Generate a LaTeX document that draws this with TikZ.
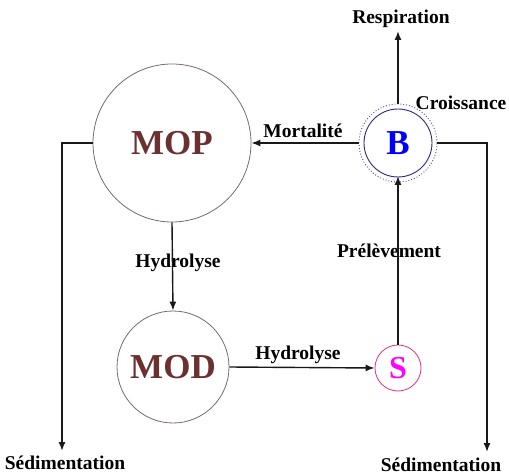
\documentclass[tikz,border=0pt]{standalone}
\usepackage{fontspec}
\setmainfont{Liberation Serif}
\usetikzlibrary{arrows.meta}
\definecolor{poolc}{HTML}{6B3030}
\definecolor{ringc}{HTML}{7A6A6A}
\definecolor{bring}{HTML}{2A2A8A}
\definecolor{bdot}{HTML}{5A3AA0}
\definecolor{sring}{HTML}{E8308A}
\definecolor{stext}{HTML}{FF00FF}
\definecolor{btext}{HTML}{0000FF}
\begin{document}
\begin{tikzpicture}[x=1pt,y=-1pt,
  pool/.style={circle,draw=ringc,line width=0.8pt,inner sep=0pt,
    font=\fontsize{35}{40}\selectfont\bfseries,text=poolc},
  lbl/.style={font=\fontsize{19.5}{22}\selectfont\bfseries,inner sep=1pt},
  flow/.style={line width=1.4pt,draw=black!90,-{Latex[length=9pt,width=7pt]}},
  link/.style={line width=1.4pt,draw=black!90}]
\useasboundingbox (0,0) rectangle (509,476);

% compartments
\node[pool,minimum size=158pt] (mop) at (172,143) {MOP};
\node[pool,minimum size=112pt] (mod) at (173,367) {MOD};
\node[circle,draw=sring,line width=0.8pt,minimum size=46pt,inner sep=0pt,
  text=stext,font=\fontsize{32}{36}\selectfont\bfseries] (s) at (398,368) {S};
\node[circle,draw=bdot,dotted,line width=0.9pt,minimum size=78pt,inner sep=0pt] (bout) at (398,143) {};
\node[circle,draw=bring,line width=0.9pt,minimum size=68pt,inner sep=0pt,
  text=btext,font=\fontsize{35}{40}\selectfont\bfseries] (b) at (398,143) {B};

% labels
\node[lbl] (resp) at (401,19) {Respiration};
\node[lbl] (crois) at (461,103) {Croissance};
\node[lbl] (mort) at (303,131) {Mortalité};
\node[lbl] (hyd1) at (178,263) {Hydrolyse};
\node[lbl] (hyd2) at (298,355) {Hydrolyse};
\node[lbl] (prel) at (389,251) {Prélèvement};
\node[lbl,anchor=north] (sedl) at (65,455) {Sédimentation};
\node[lbl,anchor=north] (sedr) at (441,457) {Sédimentation};

% corner points of the settling paths
\coordinate (cl) at (62,143);
\coordinate (cr) at (487,143);

% fluxes
\draw[flow] (bout.north) -- (398,31);
\draw[flow] (bout.west) -- (mop.east);
\draw[flow] (mop.south) -- (mod.north);
\draw[flow] (mod.east) -- (s.west);
\draw[flow] (s.north) -- (398,176);
\draw[flow] (mop.west) -- (cl) -- (62,451);
\draw[flow] (bout.east) -- (cr) -- (487,452);
\end{tikzpicture}
\end{document}
